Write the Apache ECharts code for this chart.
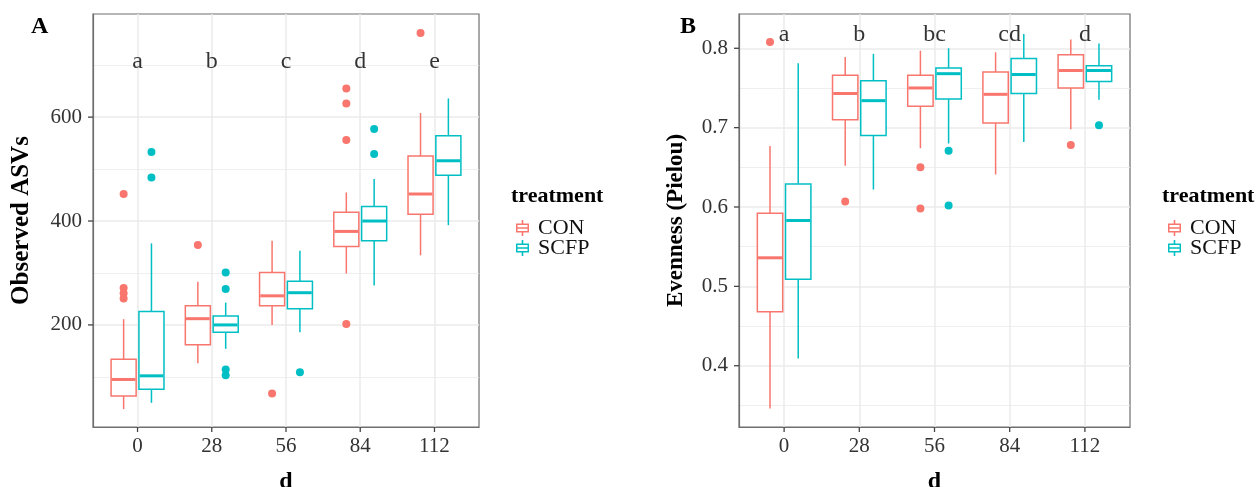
<!DOCTYPE html>
<html>
<head>
<meta charset="utf-8">
<script src="https://cdn.jsdelivr.net/npm/echarts@6/dist/echarts.min.js"></script>
<style>
  html, body { margin: 0; padding: 0; background: #ffffff; }
  #chart { width: 1258px; height: 487px; }
</style>
</head>
<body>
<div id="chart"></div>
<script>
// Sampling days and treatment groups
const days = ['0', '28', '56', '84', '112'];
const treatments = ['CON', 'SCFP'];

// Observed ASVs: [lower whisker, Q1, median, Q3, upper whisker] for each day
const asvCON  = [[38, 63, 95, 134, 211], [126, 162, 212, 237, 283], [200, 237, 256, 301, 362], [299, 351, 380, 417, 455], [334, 413, 452, 525, 608]];
const asvSCFP = [[50, 76, 102, 226, 357], [154, 186, 200, 217, 243], [186, 231, 262, 284, 343], [276, 362, 400, 428, 481], [392, 488, 516, 564, 636]];
const asvOutCON  = [[452, 271, 261, 251], [354], [68], [655, 626, 556, 202], [762]];
const asvOutSCFP = [[533, 484], [301, 269, 114, 103], [109], [577, 529], []];
const asvLetters = ['a', 'b', 'c', 'd', 'e'];
const asvLetterY = 706;
const asvTicks = [200, 400, 600];
const asvMinorTicks = [100, 300, 500, 700];

// Evenness (Pielou): [lower whisker, Q1, median, Q3, upper whisker] for each day
const evenCON  = [[0.346, 0.468, 0.536, 0.592, 0.677], [0.652, 0.710, 0.743, 0.766, 0.789], [0.674, 0.727, 0.750, 0.766, 0.797], [0.641, 0.706, 0.742, 0.770, 0.795], [0.698, 0.750, 0.772, 0.792, 0.811]];
const evenSCFP = [[0.409, 0.509, 0.583, 0.629, 0.781], [0.622, 0.690, 0.734, 0.759, 0.793], [0.680, 0.736, 0.768, 0.775, 0.800], [0.682, 0.743, 0.767, 0.787, 0.818], [0.735, 0.758, 0.772, 0.778, 0.806]];
const evenOutCON  = [[0.808], [0.607], [0.650, 0.598], [], [0.678]];
const evenOutSCFP = [[], [], [0.671, 0.602], [], [0.703]];
const evenLetters = ['a', 'b', 'bc', 'cd', 'd'];
const evenLetterY = 0.8175;
const evenTicks = [0.4, 0.5, 0.6, 0.7, 0.8];
const evenMinorTicks = [0.35, 0.45, 0.55, 0.65, 0.75];

const COLORS = { CON: '#F8766D', SCFP: '#00BFC4' };
const FONT = "'Liberation Serif', 'Times New Roman', serif";
const DODGE = 0.1875;   // half distance between the two boxes of a day
const BOX_W = 0.3375;   // box width in day units
const X_MIN = -0.6;
const X_MAX = 4.6;
const ASV_RANGE = [3.5, 798.5];
const EVEN_RANGE = [0.3228, 0.8432];
const DAY_IDX = days.map((d, i) => i);
const GRID_LINE = '#EBEBEB';
const FRAME = '#6f6f6f';
const TICK = '#444444';
const TICK_LEN = 5;

// Box-and-whisker legend key (outer box with a hole, median bar, whisker stubs)
const KEY_ICON = 'path://M5.7,0L7.3,0L7.3,3.5L13,3.5L13,12.5L7.3,12.5L7.3,16L5.7,16L5.7,12.5L0,12.5L0,3.5L5.7,3.5Z' +
  'M1.5,5L1.5,11L11.5,11L11.5,5Z' +
  'M1.5,7.2L11.5,7.2L11.5,8.8L1.5,8.8Z';

function boxRenderer(offset, color) {
  return function (params, api) {
    const x = api.value(0) + offset;
    const lo = api.coord([x, api.value(1)]);
    const q1 = api.coord([x, api.value(2)]);
    const md = api.coord([x, api.value(3)]);
    const q3 = api.coord([x, api.value(4)]);
    const hi = api.coord([x, api.value(5)]);
    const w = api.size([BOX_W, 0])[0];
    const cx = lo[0];
    const lw = 1.5;
    return {
      type: 'group',
      children: [
        { type: 'line', shape: { x1: cx, y1: hi[1], x2: cx, y2: q3[1] }, style: { stroke: color, lineWidth: lw } },
        { type: 'line', shape: { x1: cx, y1: q1[1], x2: cx, y2: lo[1] }, style: { stroke: color, lineWidth: lw } },
        { type: 'rect', shape: { x: cx - w / 2, y: q3[1], width: w, height: q1[1] - q3[1] }, style: { fill: '#ffffff', stroke: color, lineWidth: lw } },
        { type: 'line', shape: { x1: cx - w / 2 + 0.7, y1: md[1], x2: cx + w / 2 - 0.7, y2: md[1] }, style: { stroke: color, lineWidth: 3 } }
      ]
    };
  };
}

function boxSeries(name, stats, offset, gridIdx) {
  return {
    name: name,
    type: 'custom',
    xAxisIndex: gridIdx,
    yAxisIndex: gridIdx * 2,
    itemStyle: { color: COLORS[name] },
    renderItem: boxRenderer(offset, COLORS[name]),
    encode: { x: 0, y: [1, 2, 3, 4, 5] },
    data: stats.map((s, i) => [DAY_IDX[i]].concat(s)),
    z: 3
  };
}

function outlierSeries(name, outs, offset, gridIdx) {
  const pts = [];
  outs.forEach((vals, i) => vals.forEach(v => pts.push([DAY_IDX[i] + offset, v])));
  return {
    name: name,
    type: 'scatter',
    xAxisIndex: gridIdx,
    yAxisIndex: gridIdx * 2,
    symbol: 'circle',
    symbolSize: 8,
    itemStyle: { color: COLORS[name], opacity: 1 },
    data: pts,
    z: 4
  };
}

function letterSeries(letters, yVal, gridIdx) {
  return {
    type: 'scatter',
    xAxisIndex: gridIdx,
    yAxisIndex: gridIdx * 2,
    symbolSize: 0,
    silent: true,
    data: letters.map((l, i) => [DAY_IDX[i], yVal]),
    label: {
      show: true,
      position: 'inside',
      formatter: p => letters[p.dataIndex],
      fontFamily: FONT,
      fontSize: 24,
      color: '#000000'
    },
    z: 5
  };
}

function xAxisFor(gridIdx) {
  return {
    type: 'value',
    gridIndex: gridIdx,
    min: X_MIN,
    max: X_MAX,
    axisLine: { show: true, onZero: false, lineStyle: { color: FRAME, width: 1.2 } },
    axisTick: { show: false, customValues: DAY_IDX },
    axisLabel: {
      customValues: DAY_IDX,
      formatter: v => days[Math.round(v)],
      margin: 9,
      fontFamily: FONT,
      fontSize: 21,
      color: '#333333'
    },
    splitLine: { show: true, lineStyle: { color: GRID_LINE, width: 1.5 } },
    name: 'd',
    nameLocation: 'middle',
    nameGap: 43,
    nameTextStyle: { fontFamily: FONT, fontSize: 24, fontWeight: 'bold', color: '#000000' }
  };
}

function yAxesFor(gridIdx, range, ticks, minor, title, titleGap, titleSize, fmt) {
  return [
    {
      type: 'value',
      gridIndex: gridIdx,
      min: range[0],
      max: range[1],
      axisLine: { show: true, onZero: false, lineStyle: { color: FRAME, width: 1.2 } },
      axisTick: { show: false, customValues: ticks },
      axisLabel: { customValues: ticks, formatter: fmt, margin: 11, fontFamily: FONT, fontSize: 21, color: '#333333' },
      splitLine: { show: true, lineStyle: { color: GRID_LINE, width: 1.5 } },
      name: title,
      nameLocation: 'middle',
      nameRotate: 90,
      nameGap: titleGap,
      nameTextStyle: { fontFamily: FONT, fontSize: titleSize, fontWeight: 'bold', color: '#000000' },
      z: 1
    },
    {
      type: 'value',
      gridIndex: gridIdx,
      position: 'left',
      min: range[0],
      max: range[1],
      axisLine: { show: false, onZero: false },
      axisTick: { show: false, customValues: minor },
      axisLabel: { show: false, customValues: minor },
      splitLine: { show: true, lineStyle: { color: GRID_LINE, width: 0.8 } },
      z: 0
    }
  ];
}

function legendFor(left) {
  return {
    left: left,
    top: 212,
    orient: 'vertical',
    itemWidth: 13,
    itemHeight: 16,
    itemGap: -2,
    selectedMode: false,
    data: treatments.map(t => ({ name: t, icon: KEY_ICON, itemStyle: { color: COLORS[t] } })),
    textStyle: { fontFamily: FONT, fontSize: 22, color: '#111111', padding: [0, 0, 0, 4] }
  };
}

const chart = echarts.init(document.getElementById('chart'), null, { renderer: 'canvas' });

const option = {
  backgroundColor: '#ffffff',
  animation: false,
  title: [
    { text: 'A', left: 31, top: 15, padding: 0, textStyle: { fontFamily: FONT, fontSize: 24, fontWeight: 'bold', color: '#000' } },
    { text: 'B', left: 680, top: 15, padding: 0, textStyle: { fontFamily: FONT, fontSize: 24, fontWeight: 'bold', color: '#000' } },
    { text: 'treatment', left: 511, top: 185, padding: 0, textStyle: { fontFamily: FONT, fontSize: 22, fontWeight: 'bold', color: '#000' } },
    { text: 'treatment', left: 1162, top: 185, padding: 0, textStyle: { fontFamily: FONT, fontSize: 22, fontWeight: 'bold', color: '#000' } }
  ],
  legend: [legendFor(511), legendFor(1163)],
  grid: [
    { left: 93, top: 14, width: 386, height: 413, outerBoundsMode: 'none', containLabel: false, show: true, backgroundColor: '#ffffff', borderColor: FRAME, borderWidth: 1.2 },
    { left: 739, top: 14, width: 391, height: 413, outerBoundsMode: 'none', containLabel: false, show: true, backgroundColor: '#ffffff', borderColor: FRAME, borderWidth: 1.2 }
  ],
  xAxis: [xAxisFor(0), xAxisFor(1)],
  yAxis: yAxesFor(0, ASV_RANGE, asvTicks, asvMinorTicks, 'Observed ASVs', 59, 25, v => String(v))
    .concat(yAxesFor(1, EVEN_RANGE, evenTicks, evenMinorTicks, 'Evenness (Pielou)', 51, 23, v => v.toFixed(1))),
  series: [
    boxSeries('CON', asvCON, -DODGE, 0),
    boxSeries('SCFP', asvSCFP, DODGE, 0),
    outlierSeries('CON', asvOutCON, -DODGE, 0),
    outlierSeries('SCFP', asvOutSCFP, DODGE, 0),
    letterSeries(asvLetters, asvLetterY, 0),
    boxSeries('CON', evenCON, -DODGE, 1),
    boxSeries('SCFP', evenSCFP, DODGE, 1),
    outlierSeries('CON', evenOutCON, -DODGE, 1),
    outlierSeries('SCFP', evenOutSCFP, DODGE, 1),
    letterSeries(evenLetters, evenLetterY, 1)
  ]
};

chart.setOption(option);

// Outward tick marks on the left and bottom edges, placed through each grid's scales
function tickGraphics(gridIdx, yRange, yTicks) {
  const els = [];
  yTicks.forEach(v => {
    const p = chart.convertToPixel({ xAxisIndex: gridIdx, yAxisIndex: gridIdx * 2 }, [X_MIN, v]);
    els.push({ type: 'line', z: 100, silent: true, shape: { x1: p[0] - TICK_LEN, y1: p[1], x2: p[0], y2: p[1] }, style: { stroke: TICK, lineWidth: 1.3 } });
  });
  DAY_IDX.forEach(i => {
    const p = chart.convertToPixel({ xAxisIndex: gridIdx, yAxisIndex: gridIdx * 2 }, [i, yRange[0]]);
    els.push({ type: 'line', z: 100, silent: true, shape: { x1: p[0], y1: p[1], x2: p[0], y2: p[1] + TICK_LEN }, style: { stroke: TICK, lineWidth: 1.3 } });
  });
  return els;
}

chart.setOption({
  graphic: tickGraphics(0, ASV_RANGE, asvTicks).concat(tickGraphics(1, EVEN_RANGE, evenTicks))
});
</script>
</body>
</html>
